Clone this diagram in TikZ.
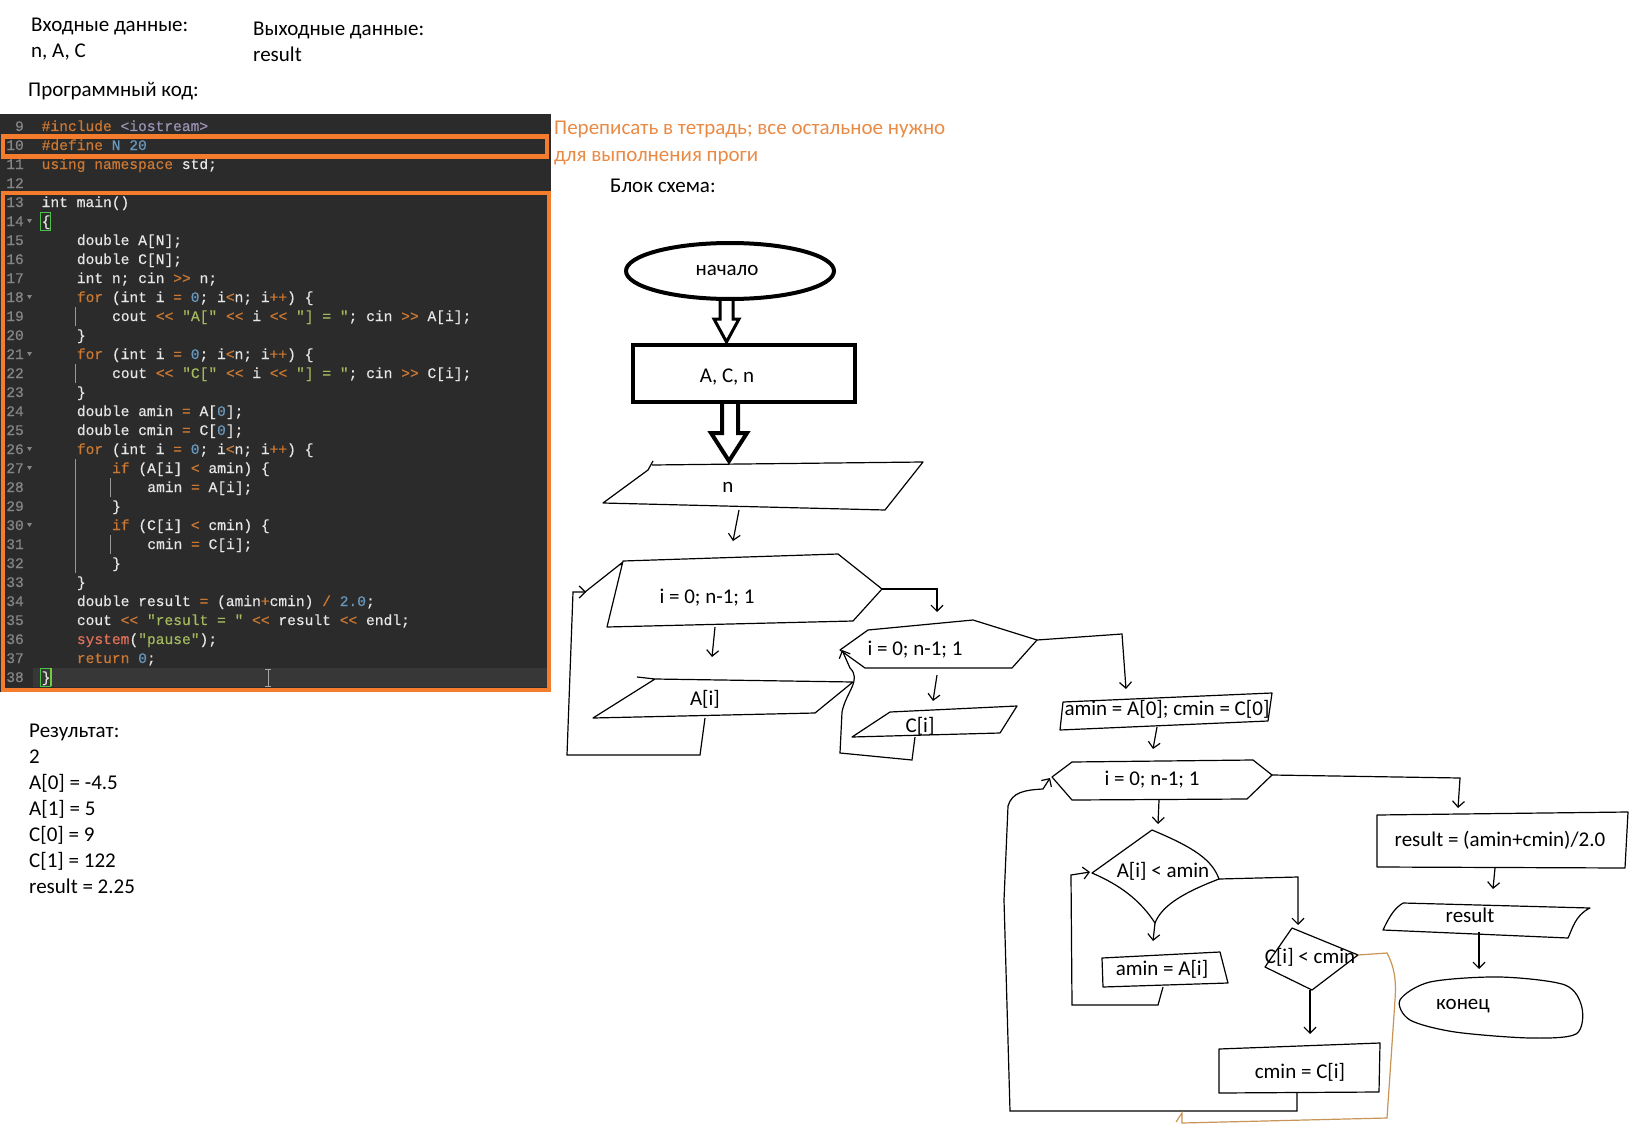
\documentclass[tikz,border=0pt]{standalone}
\usepackage{fontspec}
\setmainfont{Carlito}
\newfontfamily\codefont[FakeBold=0.4]{Liberation Mono}
\usetikzlibrary{arrows.meta}
\definecolor{codebg}{HTML}{2B2B2B}
\definecolor{curline}{HTML}{373737}
\definecolor{lnc}{HTML}{858585}
\definecolor{idc}{HTML}{E6E6E6}
\definecolor{kwc}{HTML}{CC7832}
\definecolor{numc}{HTML}{6897BB}
\definecolor{strc}{HTML}{A3B95E}
\definecolor{ppc}{HTML}{9C93B5}
\definecolor{sysc}{HTML}{E0705A}
\definecolor{orbox}{HTML}{F47C2C}
\definecolor{ortext}{HTML}{E98A45}
\definecolor{brline}{HTML}{C99556}
\definecolor{brgreen}{HTML}{4CC24C}
\newcommand\ckw[1]{\textcolor{kwc}{#1}}
\newcommand\cnm[1]{\textcolor{numc}{#1}}
\newcommand\cst[1]{\textcolor{strc}{#1}}
\newcommand\cpp[1]{\textcolor{ppc}{#1}}
\newcommand\csy[1]{\textcolor{sysc}{#1}}
\newcommand\codeln[3]{\node[codetxt] (cl#1) at ({41.5+#2*8.8},{131+(#1-9)*19}) {#3};}
\newcommand\lnum[1]{\node[lntxt] (ln#1) at (24,{131+(#1-9)*19}) {#1};}
\newcommand\fold[1]{\fill[lnc] (27,{124+(#1-9)*19}) -- (32,{124+(#1-9)*19}) -- (29.5,{128+(#1-9)*19}) -- cycle;}
\begin{document}
\begin{tikzpicture}[x=1pt,y=-1pt,
  txt/.style={anchor=base west,inner sep=0pt,font=\fontsize{21}{25}\selectfont},
  ftxt/.style={inner sep=0pt,font=\fontsize{21}{25}\selectfont},
  codetxt/.style={anchor=base west,inner sep=0pt,text=idc,font=\codefont\fontsize{14.6}{19}\selectfont},
  lntxt/.style={anchor=base east,inner sep=0pt,text=lnc,font=\codefont\fontsize{14.6}{19}\selectfont},
  shp/.style={line width=1.2pt,line join=round},
  harr/.style={line width=1.2pt,-{Straight Barb[length=6pt,width=12pt]}},
  guide/.style={gray!80,line width=0.7pt}]
\useasboundingbox (0,0) rectangle (1633,1137);
\fill[white] (0,0) rectangle (1633,1137);

% ---- header texts
\node[txt] (inlbl) at (31,32) {Входные данные:};
\node[txt] (inval) at (31,58) {n, A, C};
\node[txt] (outlbl) at (253,36) {Выходные данные:};
\node[txt] (outval) at (253,62) {result};
\node[txt] (codelbl) at (28,97) {Программный код:};
\node[txt,text=ortext] (note1) at (554,135) {Переписать в тетрадь; все остальное нужно};
\node[txt,text=ortext] (note2) at (554,161) {для выполнения проги};
\node[txt] (bslbl) at (610,192) {Блок схема:};

% ---- result texts
\node[txt] (r0) at (29,737) {Результат:};
\node[txt] (r1) at (29,763) {2};
\node[txt] (r2) at (29,789) {A[0] = -4.5};
\node[txt] (r3) at (29,815) {A[1] = 5};
\node[txt] (r4) at (29,841) {C[0] = 9};
\node[txt] (r5) at (29,867) {C[1] = 122};
\node[txt] (r6) at (29,893) {result = 2.25};

% ---- code area
\fill[codebg] (0,114) rectangle (551,692);
\fill[curline] (33,668) rectangle (548,687);
\foreach \k in {9,...,38} {\lnum{\k}}
\foreach \k in {14,18,21,26,27,30} {\fold{\k}}
% indent guides
\draw[guide] (75,307) -- (75,326);
\draw[guide] (75,364) -- (75,383);
\draw[guide] (75,459) -- (75,573);
\draw[guide] (110,478) -- (110,497);
\draw[guide] (110,535) -- (110,554);
% bracket match boxes
\draw[brgreen,line width=0.8pt] (40.5,212) rectangle (50.5,230);
\draw[brgreen,line width=0.8pt] (40.5,668) rectangle (50.5,686);
\fill[brgreen!80!yellow] (49.5,668) rectangle (51.5,686);
\codeln{9}{0}{\ckw{\#include} \cpp{<iostream>}}
\codeln{10}{0}{\ckw{\#define} \cnm{N 20}}
\codeln{11}{0}{\ckw{using namespace} std;}
\codeln{13}{0}{int main()}
\codeln{14}{0}{\{}
\codeln{15}{4}{double A[N];}
\codeln{16}{4}{double C[N];}
\codeln{17}{4}{int n; cin \ckw{>>} n;}
\codeln{18}{4}{\ckw{for} (int i \ckw{=} \cnm{0}; i\ckw{<}n; i\ckw{++}) \{}
\codeln{19}{8}{cout \ckw{<<} \cst{"A["} \ckw{<<} i \ckw{<<} \cst{"] = "}; cin \ckw{>>} A[i];}
\codeln{20}{4}{\}}
\codeln{21}{4}{\ckw{for} (int i \ckw{=} \cnm{0}; i\ckw{<}n; i\ckw{++}) \{}
\codeln{22}{8}{cout \ckw{<<} \cst{"C["} \ckw{<<} i \ckw{<<} \cst{"] = "}; cin \ckw{>>} C[i];}
\codeln{23}{4}{\}}
\codeln{24}{4}{double amin \ckw{=} A[\cnm{0}];}
\codeln{25}{4}{double cmin \ckw{=} C[\cnm{0}];}
\codeln{26}{4}{\ckw{for} (int i \ckw{=} \cnm{0}; i\ckw{<}n; i\ckw{++}) \{}
\codeln{27}{8}{\ckw{if} (A[i] \ckw{<} amin) \{}
\codeln{28}{12}{amin \ckw{=} A[i];}
\codeln{29}{8}{\}}
\codeln{30}{8}{\ckw{if} (C[i] \ckw{<} cmin) \{}
\codeln{31}{12}{cmin \ckw{=} C[i];}
\codeln{32}{8}{\}}
\codeln{33}{4}{\}}
\codeln{34}{4}{double result \ckw{=} (amin\ckw{+}cmin) \ckw{/} \cnm{2.0};}
\codeln{35}{4}{cout \ckw{<<} \cst{"result = "} \ckw{<<} result \ckw{<<} endl;}
\codeln{36}{4}{\csy{system}(\cst{"pause"});}
\codeln{37}{4}{\ckw{return} \cnm{0};}
\codeln{38}{0}{\}}
% mouse I-beam
\draw[gray!70,line width=0.9pt] (268,669) -- (268,686) (265,669) -- (271,669) (265,686) -- (271,686);
% orange frames
\draw[orbox,line width=4.5pt] (3,136.5) rectangle (547,156.5);
\draw[orbox,line width=4.5pt] (3,193) rectangle (549,690);

% ---- flowchart: start
\draw[line width=4pt] (730,271) ellipse [x radius=104pt, y radius=28pt];
\node[ftxt] (start) at (727,270) {начало};
\draw[line width=3pt,line join=miter] (720,300) -- (720,319) -- (714,319) -- (726.5,342) -- (739,319) -- (733,319) -- (733,300);
\draw[line width=4.5pt] (633,345) rectangle (855,402);
\node[ftxt] (acn) at (727,377) {A, C, n};
\draw[line width=4pt,line join=miter] (722,404) -- (722,433) -- (711,433) -- (729,461) -- (747,433) -- (738,433) -- (738,404);

% input n
\draw[shp] (652,465) -- (923,462) -- (885,510) -- (603,503) -- (648,470) -- (653,461);
\node[ftxt] (nin) at (728,487) {n};
\coordinate (nb) at (739,510);
\coordinate (h1t) at (733,541);
\draw[harr] (nb) -- (h1t);

% loop 1
\draw[shp] (585,592) -- (623,562) -- (620,565) (623,561) -- (838,554) -- (882,589) -- (853,621) -- (607,627) -- cycle;
\node[ftxt] (loop1) at (707,598) {i = 0; n-1; 1};
\coordinate (h1b) at (715,627);
\coordinate (a1t) at (712,657);
\draw[harr] (h1b) -- (a1t);
\draw[shp] (655,679) -- (853,682) -- (815,713) -- (593,718) -- (655,679) -- (637,677);
\node[ftxt] (ain) at (705,699) {A[i]};
\coordinate (a1b) at (705,718);
\coordinate (h1l) at (586,592);
\draw[harr] (a1b) -- (700,755) -- (567,755) -- (573,592) -- (h1l);
\coordinate (h1r) at (882,589);
\coordinate (h2t) at (937,612);
\draw[harr] (h1r) -- (937,589) -- (h2t);

% loop 2
\draw[shp] (840,650) -- (868,630) -- (973,620) -- (1037,640) -- (1012,668) -- (865,668) -- cycle;
\node[ftxt] (loop2) at (915,650) {i = 0; n-1; 1};
\coordinate (h2b) at (937,675);
\coordinate (c1t) at (933,701);
\draw[harr] (h2b) -- (c1t);
\draw[shp] (890,712) -- (1017,706) -- (1000,733) -- (852,737) -- (890,712);
\node[ftxt] (cin) at (920,726) {C[i]};
\coordinate (c1b) at (915,737);
\coordinate (h2l) at (842,650);
\draw[harr] (c1b) -- (912,760) -- (840,753) -- (842,712) .. controls (846,692) and (862,680) .. (850,668) -- (h2l);
\coordinate (h2r) at (1037,640);
\coordinate (b0t) at (1126,689);
\draw[harr] (h2r) -- (1122,634) -- (b0t);

% init box
\draw[shp] (1063,702) -- (1272,693) -- (1268,721) -- (1060,730) -- cycle;
\node[ftxt] (init) at (1167,709) {amin = A[0]; cmin = C[0]};
\coordinate (b0b) at (1157,727);
\coordinate (h3t) at (1153,749);
\draw[harr] (b0b) -- (h3t);

% loop 3
\draw[shp] (1052,777) -- (1072,762) -- (1253,760) -- (1272,775) -- (1247,799) -- (1072,800) -- cycle;
\node[ftxt] (loop3) at (1152,780) {i = 0; n-1; 1};
\coordinate (h3r) at (1272,775);
\coordinate (rt) at (1458,808);
\draw[harr] (h3r) -- (1460,778) -- (rt);
\coordinate (h3b) at (1159,800);
\coordinate (dat) at (1158,824);
\draw[harr] (h3b) -- (dat);

% diamond A
\draw[shp] (1152,830) .. controls (1195,848) and (1212,860) .. (1219,879)
  .. controls (1185,892) and (1162,905) .. (1155,923)
  .. controls (1140,900) and (1120,885) .. (1092,873) -- cycle;
\node[ftxt] (da) at (1163,871) {A[i] < amin};
\coordinate (dar) at (1219,879);
\coordinate (dct) at (1298,925);
\draw[harr] (dar) -- (1298,877) -- (dct);
\coordinate (dab) at (1155,923);
\coordinate (amt) at (1153,941);
\draw[harr] (dab) -- (amt);
\draw[shp] (1102,958) -- (1220,952) -- (1228,983) -- (1103,987) -- cycle;
\node[ftxt] (amin) at (1162,969) {amin = A[i]};
\coordinate (amb) at (1163,987);
\coordinate (dal) at (1090,872);
\draw[harr] (amb) -- (1158,1005) -- (1072,1005) -- (1071,875) -- (dal);

% diamond C
\draw[shp] (1292,928) -- (1358,955) -- (1312,990) -- (1265,967) -- cycle;
\node[ftxt] (dc) at (1310,957) {C[i] < cmin};
\coordinate (dcb) at (1310,990);
\coordinate (cmt) at (1310,1034);
\draw[harr] (dcb) -- (cmt);
\draw[shp] (1219,1049) -- (1380,1043) -- (1379,1092) -- (1219,1093) -- cycle;
\node[ftxt] (cmin) at (1300,1072) {cmin = C[i]};
\coordinate (cmb) at (1297,1093);
\coordinate (h3l) at (1050,778);
\draw[harr] (cmb) -- (1297,1111) -- (1010,1111) -- (1004,900) -- (1008,806) .. controls (1012,792) and (1025,790) .. (1043,789) -- (h3l);
\coordinate (dcr) at (1358,955);
\draw[brline,line width=1.2pt] (dcr) -- (1387,953) .. controls (1396,970) and (1396,985) .. (1395,1000) -- (1387,1118) -- (1182,1123) -- (1182,1113) -- (1176,1122);

% result
\draw[shp] (1377,815) -- (1628,812) -- (1625,868) -- (1377,867) -- cycle;
\node[ftxt] (res) at (1500,840) {result = (amin+cmin)/2.0};
\coordinate (resb) at (1495,868);
\coordinate (prt) at (1493,889);
\draw[harr] (resb) -- (prt);
\draw[shp] (1403,903) -- (1590,908) .. controls (1575,915) and (1572,930) .. (1568,938) -- (1383,930) .. controls (1390,915) and (1395,908) .. (1403,903);
\node[ftxt] (rout) at (1470,915) {result};
\coordinate (prb) at (1479,932);
\coordinate (endt) at (1479,969);
\draw[harr] (prb) -- (endt);
\draw[shp] plot[smooth cycle] coordinates {(1400,1000) (1430,982) (1500,977) (1565,985) (1582,1008) (1576,1034) (1530,1038) (1455,1032) (1410,1020)};
\node[ftxt] (endn) at (1463,1006) {конец};
\end{tikzpicture}
\end{document}
